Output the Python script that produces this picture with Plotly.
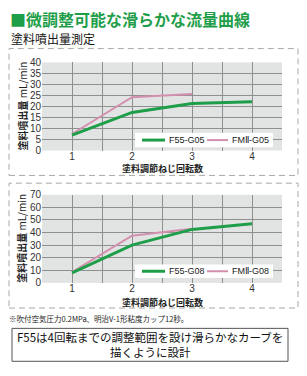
import plotly.graph_objects as go

W, H = 307, 376

# ---- data ----
turns_f55 = [1, 2, 3, 4]
turns_fm2 = [1, 2, 3]
f55_g05 = [7, 17.3, 21.4, 22.1]
fm2_g05 = [7.5, 24.2, 25.7]
f55_g08 = [8, 30, 42.5, 47]
fm2_g08 = [8.5, 37.5, 43]
x_ticks = [1, 2, 3, 4]
y_ticks_top = [0, 5, 10, 15, 20, 25, 30, 35, 40]
y_ticks_bot = [0, 10, 20, 30, 40, 50, 60, 70]
names_top = ["F55-G05", "FMⅡ-G05"]
names_bot = ["F55-G08", "FMⅡ-G08"]

GREEN = "#1f9e4a"
PINK = "#d38fae"
GRID = "#8e9090"
PLOTBG = "#e2e4e4"
JP = "Noto Sans CJK JP"


def px(x):
    return x / W


def py(y):
    return 1 - y / H


fig = go.Figure()

# top chart (pink first so green draws on top)
fig.add_trace(go.Scatter(x=turns_fm2, y=fm2_g05, mode="lines", name=names_top[1],
                         line=dict(color=PINK, width=2), xaxis="x", yaxis="y"))
fig.add_trace(go.Scatter(x=turns_f55, y=f55_g05, mode="lines", name=names_top[0],
                         line=dict(color=GREEN, width=3), xaxis="x", yaxis="y"))
# bottom chart
fig.add_trace(go.Scatter(x=turns_fm2, y=fm2_g08, mode="lines", name=names_bot[1],
                         line=dict(color=PINK, width=2), xaxis="x2", yaxis="y2"))
fig.add_trace(go.Scatter(x=turns_f55, y=f55_g08, mode="lines", name=names_bot[0],
                         line=dict(color=GREEN, width=3), xaxis="x2", yaxis="y2"))

xdom = [px(42), px(282)]
top_dom = [py(149.3), py(58.3)]
bot_dom = [py(286), py(195)]

tickfont = dict(family="Liberation Sans, Arial", size=10, color="#333333")


def xaxis_cfg(anchor):
    return dict(domain=xdom, range=[0.5, 4.5], tickvals=x_ticks,
                ticktext=[str(v) for v in x_ticks], showgrid=True, gridcolor=GRID,
                gridwidth=1, ticks="", zeroline=False, showline=False,
                tickfont=tickfont, anchor=anchor, fixedrange=True,
                ticklabelstandoff=-2,
                minor=dict(tickvals=[1.5, 2.5, 3.5], showgrid=True, gridcolor=GRID,
                           gridwidth=1, ticks=""))


def yaxis_cfg(dom, rng, ticks, anchor):
    return dict(domain=dom, range=rng, tickvals=ticks, showgrid=False,
                ticks="", zeroline=False, showline=False, tickfont=tickfont,
                anchor=anchor, fixedrange=True,
                minor=dict(tickvals=ticks[1:-1], showgrid=True, gridcolor=GRID,
                           gridwidth=1, ticks=""))


fig.update_layout(
    width=W, height=H, margin=dict(l=0, r=0, t=0, b=0),
    paper_bgcolor="white", plot_bgcolor=PLOTBG,
    xaxis=xaxis_cfg("y"),
    yaxis=yaxis_cfg(top_dom, [0, 40], y_ticks_top, "x"),
    xaxis2=xaxis_cfg("y2"),
    yaxis2=yaxis_cfg(bot_dom, [0, 70], y_ticks_bot, "x2"),
    showlegend=False,
)

shapes = []
ann = []
# dashed frames
for (y0, y1) in [(44, 175), (183, 312)]:
    shapes.append(dict(type="rect", xref="paper", yref="paper",
                       x0=px(9), x1=px(298), y0=py(y1), y1=py(y0),
                       line=dict(color="#a8a8a8", width=1, dash="6px,4px"),
                       fillcolor="rgba(0,0,0,0)", layer="below"))

# legends (white box with line keys)
for (ytop, ybot, names) in [(131, 146, names_top), (267, 281, names_bot)]:
    yc = (ytop + ybot) / 2
    shapes.append(dict(type="rect", xref="paper", yref="paper",
                       x0=px(135), x1=px(273), y0=py(ybot), y1=py(ytop),
                       line=dict(width=0), fillcolor="white", layer="above"))
    shapes.append(dict(type="line", xref="paper", yref="paper",
                       x0=px(142), x1=px(165), y0=py(yc), y1=py(yc),
                       line=dict(color=GREEN, width=3), layer="above"))
    shapes.append(dict(type="line", xref="paper", yref="paper",
                       x0=px(207), x1=px(228), y0=py(yc), y1=py(yc),
                       line=dict(color=PINK, width=2), layer="above"))
    ann.append(dict(text=names[0], x=px(166.5), y=py(yc), xref="paper", yref="paper",
                    xanchor="left", yanchor="middle", showarrow=False,
                    font=dict(family="Liberation Sans, Arial", size=9, color="#222")))
    ann.append(dict(text=names[1], x=px(229.5), y=py(yc), xref="paper", yref="paper",
                    xanchor="left", yanchor="middle", showarrow=False,
                    font=dict(family="Liberation Sans, Arial", size=9, color="#222")))

# bottom text box
shapes.append(dict(type="rect", xref="paper", yref="paper",
                   x0=px(12), x1=px(288), y0=py(367), y1=py(333),
                   line=dict(color="#555555", width=1), fillcolor="white"))
fig.update_layout(shapes=shapes)

ann.append(dict(text="<b>■微調整可能な滑らかな流量曲線</b>", x=px(8), y=py(13.5),
                xref="paper", yref="paper", xanchor="left", yanchor="middle",
                showarrow=False, font=dict(family=JP, size=16, color=GREEN)))
ann.append(dict(text="塗料噴出量測定", x=px(9), y=py(34),
                xref="paper", yref="paper", xanchor="left", yanchor="middle",
                showarrow=False, font=dict(family=JP, size=12, color="#111")))
for yc, yt in [(103.8, 168), (240.5, 306)]:
    ann.append(dict(text="<b>塗料噴出量</b> mL/min", x=px(22), y=py(yc), textangle=-90,
                    xref="paper", yref="paper", xanchor="center", yanchor="middle",
                    showarrow=False, font=dict(family=JP, size=10, color="#222")))
    ann.append(dict(text="<b>塗料調節ねじ回転数</b>", x=px(162), y=py(yt),
                    xref="paper", yref="paper", xanchor="center", yanchor="middle",
                    showarrow=False, font=dict(family=JP, size=9, color="#222")))
ann.append(dict(text="※吹付空気圧力0.2MPa、明治V-1形粘度カップ12秒。", x=px(7), y=py(323),
                xref="paper", yref="paper", xanchor="left", yanchor="middle",
                showarrow=False, font=dict(family=JP, size=7.5, color="#222")))
ann.append(dict(text="F55は4回転までの調整範囲を設け滑らかなカーブを<br>描くように設計",
                x=px(150), y=py(350), xref="paper", yref="paper",
                xanchor="center", yanchor="middle", align="center",
                showarrow=False, font=dict(family=JP, size=11.5, color="#111")))
fig.update_layout(annotations=ann)

fig.write_html("out.html")
